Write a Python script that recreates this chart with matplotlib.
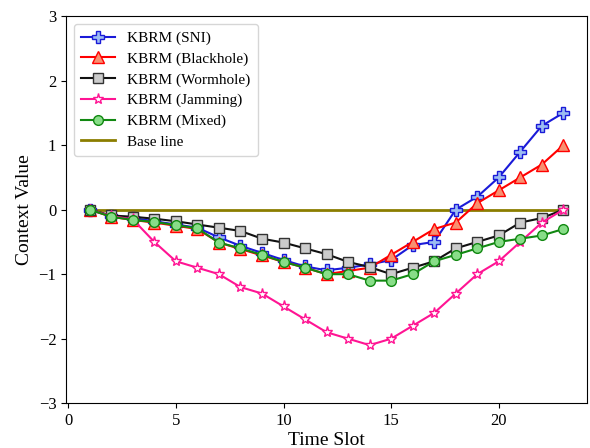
import matplotlib
matplotlib.use("Agg")
import matplotlib.pyplot as plt

plt.rcParams["font.family"] = ["Liberation Serif", "DejaVu Serif"]
plt.rcParams["mathtext.fontset"] = "stix"

# ── Daten ────────────────────────────────────────────────────────────────────
slots = list(range(1, 24))

sni = [0, -0.1, -0.13, -0.18, -0.23, -0.28, -0.43, -0.56, -0.67, -0.78, -0.88, -0.94,
       -0.9, -0.85, -0.78, -0.55, -0.5, 0.0, 0.2, 0.5, 0.9, 1.3, 1.5]
blackhole = [0, -0.11, -0.16, -0.2, -0.25, -0.3, -0.51, -0.61, -0.71, -0.81, -0.9, -1.0,
             -0.95, -0.9, -0.7, -0.5, -0.3, -0.2, 0.1, 0.3, 0.5, 0.7, 1.0]
wormhole = [0, -0.09, -0.11, -0.14, -0.18, -0.23, -0.28, -0.33, -0.45, -0.51, -0.6, -0.69,
            -0.81, -0.89, -1.0, -0.9, -0.8, -0.6, -0.5, -0.4, -0.2, -0.13, 0.0]
jamming = [0, -0.1, -0.15, -0.5, -0.8, -0.9, -1.0, -1.2, -1.3, -1.5, -1.7, -1.9,
           -2.0, -2.1, -2.0, -1.8, -1.6, -1.3, -1.0, -0.8, -0.5, -0.2, 0.0]
mixed = [0, -0.11, -0.16, -0.19, -0.24, -0.29, -0.51, -0.6, -0.7, -0.81, -0.9, -1.0,
         -1.0, -1.1, -1.1, -1.0, -0.8, -0.7, -0.6, -0.5, -0.45, -0.4, -0.3]
baseline = [0] * len(slots)

x_ticks = [0, 5, 10, 15, 20]
y_ticks = [-3, -2, -1, 0, 1, 2, 3]

# ── Plot ─────────────────────────────────────────────────────────────────────
fig = plt.figure(figsize=(5.9, 4.48), dpi=100)
ax = fig.add_axes([0.112, 0.100, 0.883, 0.864])

ax.plot(slots, sni, color="#1a1ad8", lw=1.5, marker="P", ms=8,
        mfc="#9cbcf2", mec="#1a1ad8", mew=1.0, label="KBRM (SNI)")
ax.plot(slots, blackhole, color="red", lw=1.5, marker="^", ms=8,
        mfc="#f89070", mec="red", mew=1.0, label="KBRM (Blackhole)")
ax.plot(slots, wormhole, color="#111111", lw=1.5, marker="s", ms=7,
        mfc="#cccccc", mec="#333333", mew=1.0, label="KBRM (Wormhole)")
ax.plot(slots, jamming, color="#ff1493", lw=1.5, marker="*", ms=8,
        mfc="white", mec="#ff1493", mew=1.0, label="KBRM (Jamming)")
ax.plot(slots, mixed, color="#118811", lw=1.5, marker="o", ms=7,
        mfc="#88dd88", mec="#118811", mew=1.0, label="KBRM (Mixed)")
ax.plot(slots, baseline, color="#8b7d00", lw=2.0, zorder=1.5, label="Base line")

ax.set_xticks(x_ticks)
ax.set_yticks(y_ticks)
ax.set_ylim(-3, 3)
ax.tick_params(labelsize=12)
ax.set_xlabel("Time Slot", fontsize=14, labelpad=2)
ax.set_ylabel("Context Value", fontsize=14)
ax.legend(loc="upper left", fontsize=11, handlelength=2.2, borderpad=0.5,
          labelspacing=0.45)

fig.savefig("out.png", dpi=100)
